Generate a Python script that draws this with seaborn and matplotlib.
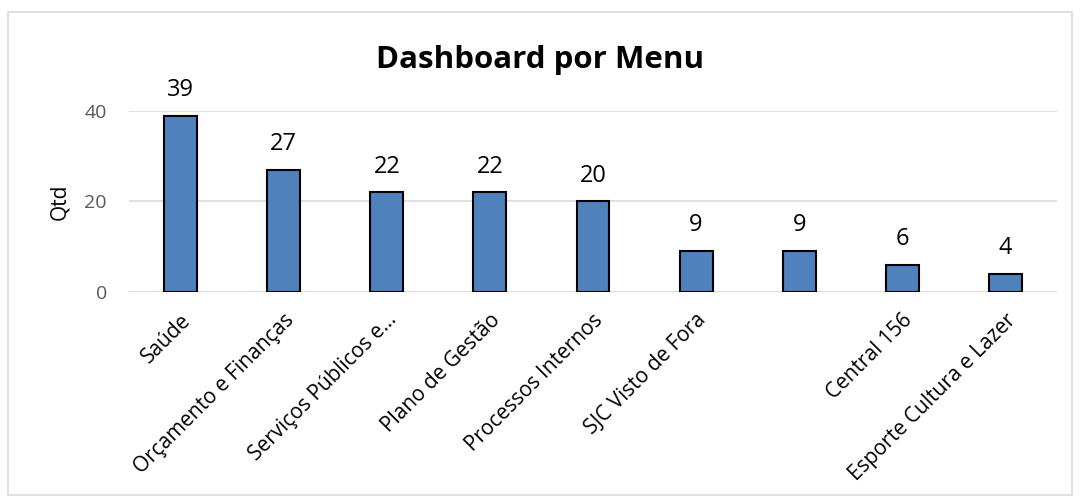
import matplotlib
matplotlib.use("Agg")
import matplotlib.pyplot as plt
import matplotlib.transforms as mtransforms
import seaborn as sns
import pandas as pd
from matplotlib.patches import Rectangle

categories = ["Saúde", "Orçamento e Finanças", "Serviços Públicos e…", "Plano de Gestão",
              "Processos Internos", "SJC Visto de Fora", "", "Central 156",
              "Esporte Cultura e Lazer"]
values = [39, 27, 22, 22, 20, 9, 9, 6, 4]
yticks = [0, 20, 40]

df = pd.DataFrame({"cat": categories, "qtd": values})

sns.set_theme(style="white")
plt.rcParams['font.family'] = ['Open Sans', 'DejaVu Sans']

fig = plt.figure(figsize=(10.8, 4.98), dpi=100)
ax = fig.add_axes([129/1080, 1-292/498, 928/1080, 181/498])

sns.barplot(data=df, x="cat", y="qtd", order=categories, color="#4F81BD",
            edgecolor="black", linewidth=1.5, width=0.32, saturation=1, ax=ax)

ax.set_ylim(0, 40)
ax.set_xlim(-0.5, len(categories) - 0.5)
ax.set_yticks(yticks)
ax.yaxis.grid(True, color="#D9D9D9", linewidth=1.2)
ax.set_axisbelow(True)
for s in ax.spines.values():
    s.set_visible(False)
ax.axhline(0, color="#D9D9D9", linewidth=1.2, zorder=0)
ax.tick_params(axis="y", colors="#595959", labelsize=14, length=0, pad=16)
ax.tick_params(axis="x", colors="black", labelsize=15, length=0, pad=18)
ax.set_xticks(range(len(categories)))
ax.set_xticklabels(categories, rotation=45, ha="right", va="center", rotation_mode="anchor")
offset = mtransforms.ScaledTranslation(7/100, 0, fig.dpi_scale_trans)
for lbl in ax.get_xticklabels():
    lbl.set_transform(lbl.get_transform() + offset)
ax.set_xlabel("")
ax.set_ylabel("Qtd", fontsize=15, color="black", labelpad=10)

for c in ax.containers:
    ax.bar_label(c, labels=[str(v) for v in values], padding=10, fontsize=17,
                 color="black", clip_on=False)

fig.text(0.5, 1-60/498, "Dashboard por Menu", ha="center", va="center",
         fontsize=22.5, fontweight="bold", color="black")

fig.patches.append(Rectangle((8/1080, 1-495/498), 1064/1080, 483/498,
                             transform=fig.transFigure, fill=False,
                             edgecolor="#D9D9D9", linewidth=1.2))

fig.savefig("out.png", dpi=100)
